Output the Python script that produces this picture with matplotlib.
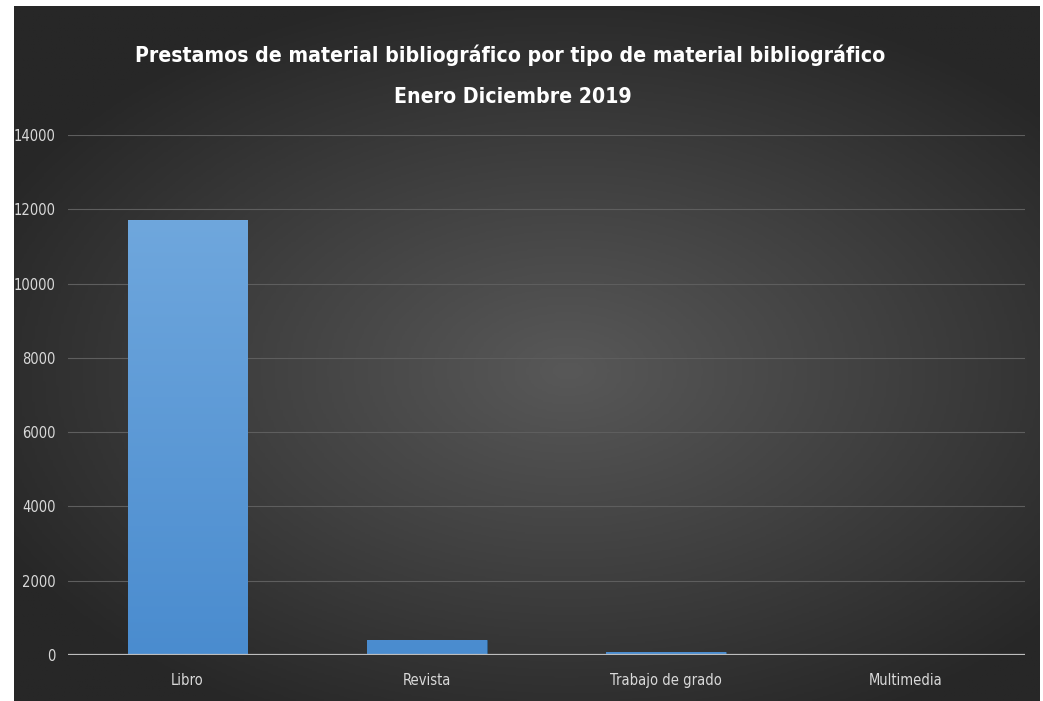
import numpy as np
import matplotlib.pyplot as plt
from matplotlib import font_manager
from matplotlib.colors import LinearSegmentedColormap

# data
categorias = ["Libro", "Revista", "Trabajo de grado", "Multimedia"]
prestamos = [11700, 400, 90, 20]
y_ticks = [0, 2000, 4000, 6000, 8000, 10000, 12000, 14000]
titulo_1 = "Prestamos de material bibliográfico por tipo de material bibliográfico"
titulo_2 = "Enero Diciembre 2019"

# pick a narrow font if there is one
nombres = {f.name for f in font_manager.fontManager.ttflist}
if "Liberation Sans Narrow" in nombres:
    fuente, estirar = "Liberation Sans Narrow", "normal"
else:
    fuente, estirar = "DejaVu Sans", "condensed"

W, H = 1043, 701
fig = plt.figure(figsize=(W / 100, H / 100), dpi=100)
fig.patch.set_facecolor("white")

# dark panel with radial gradient
bg = fig.add_axes([14 / W, 0, (1040 - 14) / W, (701 - 6) / H])
bg.set_axis_off()
gx, gy = np.meshgrid(np.linspace(-1, 1, 400), np.linspace(-1, 1, 300))
r = np.sqrt((gx - 0.08) ** 2 + ((gy - 0.05) * 1.1) ** 2)
r = np.clip(r / 1.25, 0, 1)
bg_cmap = LinearSegmentedColormap.from_list("bg", ["#585858", "#404040", "#272727"])
bg.imshow(r, cmap=bg_cmap, aspect="auto", extent=[0, 1, 0, 1], vmin=0, vmax=1)
bg.set_xlim(0, 1)
bg.set_ylim(0, 1)

# main plot axes
x0, x1 = 68, 1025
y0, y1 = 655, 135
ax = fig.add_axes([x0 / W, (H - y0) / H, (x1 - x0) / W, (y0 - y1) / H])
ax.patch.set_alpha(0)

xs = np.arange(len(categorias))
bars = ax.bar(xs, prestamos, width=0.5, color="#5b9bd5", edgecolor="#2f5f8a",
              linewidth=0.6, zorder=3)
bar_cmap = LinearSegmentedColormap.from_list("bar", ["#4a8ccf", "#6fa7dd"])
grad = np.linspace(0, 1, 256).reshape(-1, 1)
for b in bars:
    bx, bw = b.get_x(), b.get_width()
    im = ax.imshow(grad, cmap=bar_cmap, aspect="auto", origin="lower",
                   extent=[bx, bx + bw, 0, max(prestamos)], zorder=3.5)
    im.set_clip_path(b)

ax.set_xlim(-0.5, len(categorias) - 0.5)
ax.set_ylim(0, 14000)
ax.set_yticks(y_ticks)
ax.set_yticklabels([str(v) for v in y_ticks])
ax.set_xticks(xs)
ax.set_xticklabels(categorias)
ax.grid(axis="y", color="#5e5e5e", linewidth=0.8, zorder=0)
ax.axhline(0, color="#bdbdbd", linewidth=1.6, zorder=4)
for s in ax.spines.values():
    s.set_visible(False)
ax.tick_params(length=0, colors="#d9d9d9", labelsize=10.5)
ax.tick_params(axis="y", pad=9)
ax.tick_params(axis="x", pad=13)
for lab in ax.get_xticklabels() + ax.get_yticklabels():
    lab.set_fontfamily(fuente)
    lab.set_fontstretch(estirar)
    lab.set_color("#d9d9d9")

# title, scaled to the width seen in the reference (about 750 px)
renderer = fig.canvas.get_renderer()
t1 = fig.text(510 / W, 1 - 55 / H, titulo_1, ha="center", va="center", color="white",
              fontsize=20, fontweight="bold", family=fuente, fontstretch=estirar)
ancho = t1.get_window_extent(renderer).width
tam = 20 * 750 / ancho
t1.set_fontsize(tam)
fig.text(513 / W, 1 - 97 / H, titulo_2, ha="center", va="center", color="white",
         fontsize=tam, fontweight="bold", family=fuente, fontstretch=estirar)

fig.savefig("out.png", dpi=100)
